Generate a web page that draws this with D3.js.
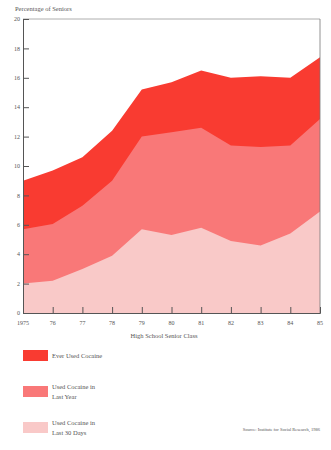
<!DOCTYPE html>
<html><head><meta charset="utf-8">
<script src="https://cdn.jsdelivr.net/npm/d3@7"></script>
<style>body{margin:0;background:#fff}svg{display:block}text{font-family:"Liberation Serif","DejaVu Serif",serif;fill:#555}</style>
</head><body><svg id="c" width="331" height="450"></svg>
<script>
const years = [1975,1976,1977,1978,1979,1980,1981,1982,1983,1984,1985];
const yearLabels = ["1975","76","77","78","79","80","81","82","83","84","85"];
const everUsed = [9.0,9.7,10.6,12.4,15.2,15.7,16.5,16.0,16.1,16.0,17.4];
const lastYear = [5.7,6.05,7.3,9.0,12.0,12.3,12.6,11.4,11.3,11.4,13.2];
const last30Days = [2.0,2.2,3.0,3.9,5.7,5.3,5.8,4.9,4.6,5.4,6.9];
const yTicks = [0,2,4,6,8,10,12,14,16,18,20];
const seriesNames = ["Ever Used Cocaine",["Used Cocaine in","Last Year"],["Used Cocaine in","Last 30 Days"]];
const colors = ["#f93b31","#f97878","#f9c9c8"];

const svg = d3.select("#c");
const x = d3.scaleLinear().domain([1975,1985]).range([23,320]);
const y = d3.scaleLinear().domain([0,20]).range([313,19]);

const series = [everUsed,lastYear,last30Days];
series.forEach((s,i)=>{
  const area = d3.area().x((d,j)=>x(years[j])).y0(y(0)).y1(d=>y(d));
  svg.append("path").datum(s).attr("d",area).attr("fill",colors[i]);
});

// frame
svg.append("line").attr("x1",x(1975)).attr("x2",x(1985)).attr("y1",y(20)).attr("y2",y(20)).attr("stroke","#999").attr("stroke-width",0.8);
svg.append("line").attr("x1",x(1985)).attr("x2",x(1985)).attr("y1",y(20)).attr("y2",y(0)).attr("stroke","#777").attr("stroke-width",0.8);

// y axis
const ya = svg.append("g").attr("transform",`translate(${x(1975)},0)`)
  .call(d3.axisRight(y).tickValues(yTicks).tickSize(6).tickFormat(""));
ya.select(".domain").attr("stroke","#555").attr("stroke-width",1);
ya.selectAll(".tick line").attr("stroke","#555");
svg.append("g").selectAll("text").data(yTicks).join("text")
  .attr("x",20).attr("y",d=>y(d)).attr("dy","0.35em").attr("text-anchor","end")
  .attr("font-size",6).text(d=>d);

// x axis
const xa = svg.append("g").attr("transform",`translate(0,${y(0)})`)
  .call(d3.axisTop(x).tickValues(years.slice(1,-1)).tickSize(6).tickFormat(""));
xa.select(".domain").attr("stroke","#555").attr("stroke-width",1);
xa.selectAll(".tick line").attr("stroke","#555");
svg.append("g").selectAll("text").data(years).join("text")
  .attr("x",d=>x(d)).attr("y",y(0)+12).attr("text-anchor","middle")
  .attr("font-size",6).text((d,i)=>yearLabels[i]);

svg.append("text").attr("x",15).attr("y",11).attr("font-size",6.5).text("Percentage of Seniors");
svg.append("text").attr("x",164).attr("y",338).attr("text-anchor","middle").attr("font-size",6.5).text("High School Senior Class");

// legend
const ly = [350,386,422];
seriesNames.forEach((n,i)=>{
  svg.append("rect").attr("x",23).attr("y",ly[i]).attr("width",25).attr("height",11).attr("fill",colors[i]);
  const lines = Array.isArray(n)?n:[n];
  const t = svg.append("text").attr("x",52).attr("font-size",6.5);
  if(lines.length===1){
    t.attr("y",ly[i]+7.5).text(lines[0]);
  } else {
    lines.forEach((l,k)=>t.append("tspan").attr("x",52).attr("y",ly[i]+3+k*9.5).text(l));
  }
});
svg.append("text").attr("x",320).attr("y",431).attr("text-anchor","end").attr("font-size",4.5).text("Source: Institute for Social Research, 1986");
</script></body></html>
